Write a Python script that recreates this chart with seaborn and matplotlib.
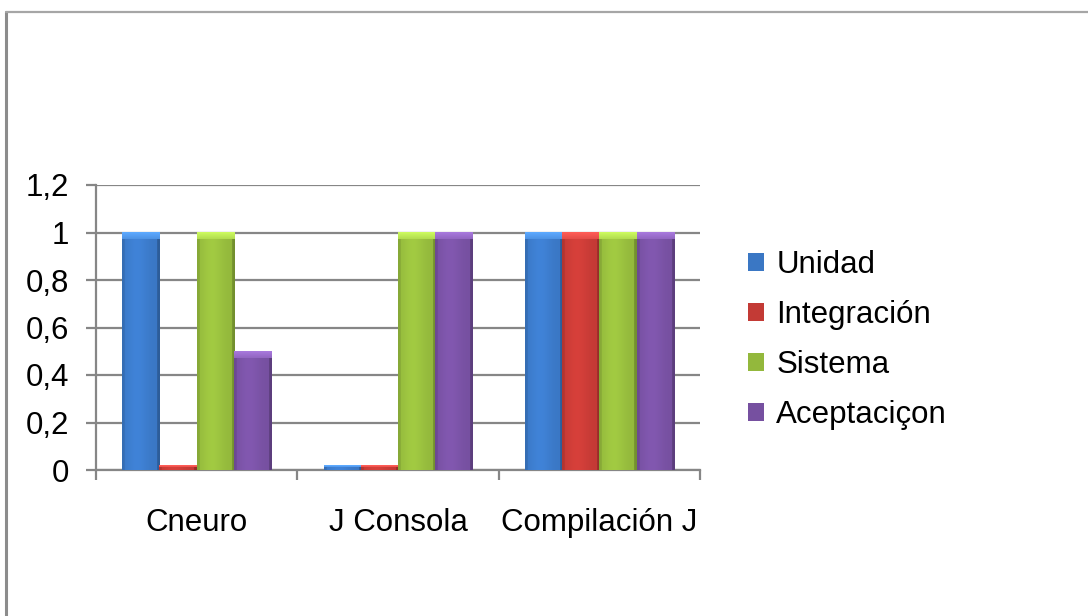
import numpy as np
import pandas as pd
import matplotlib
matplotlib.use("Agg")
import matplotlib.pyplot as plt
import matplotlib.colors as mcolors
from matplotlib.patches import Patch
from matplotlib.lines import Line2D
import seaborn as sns

# Data
categories = ["Cneuro", "J Consola", "Compilación J"]
series = ["Unidad", "Integración", "Sistema", "Aceptaciçon"]
unidad = [1.0, 0.02, 1.0]
integracion = [0.02, 0.02, 1.0]
sistema = [1.0, 1.0, 1.0]
aceptacion = [0.5, 1.0, 1.0]
y_ticks = [0, 0.2, 0.4, 0.6, 0.8, 1.0, 1.2]
y_tick_labels = ["0", "0,2", "0,4", "0,6", "0,8", "1", "1,2"]
colors = ["#3a77c4", "#c33a35", "#93b83c", "#7650a0"]

df = pd.DataFrame({
    "categoria": categories * 4,
    "serie": [s for s in series for _ in categories],
    "valor": unidad + integracion + sistema + aceptacion,
})

sns.set_theme(style="white")
plt.rcParams["font.family"] = ["Liberation Sans", "DejaVu Sans"]

W, H, DPI = 1088, 616, 100
FS = 22.5
fig = plt.figure(figsize=(W / DPI, H / DPI), dpi=DPI)
ax = fig.add_axes([96 / W, 1 - 470 / H, (700 - 96) / W, (470 - 185) / H])

grid_c = "#868686"
sns.barplot(data=df, x="categoria", y="valor", hue="serie", order=categories,
            hue_order=series, palette=colors, width=0.74, gap=0, saturation=1,
            edgecolor="none", linewidth=0, legend=False, ax=ax, zorder=3)

ax.set_ylim(0, 1.2)
ax.set_xlim(-0.5, len(categories) - 0.5)
ax.set_yticks(y_ticks)
ax.set_yticklabels(y_tick_labels, fontsize=FS, color="black")
ax.yaxis.grid(True, color=grid_c, linewidth=1.6, zorder=0)
ax.set_axisbelow(True)
ax.tick_params(axis="y", length=7.5, width=1.6, color=grid_c, pad=12, left=True)

# Category separators as major ticks, labels on minor ticks
ax.set_xticks(np.arange(-0.5, len(categories), 1.0))
ax.set_xticklabels([])
ax.set_xticks(np.arange(len(categories)), minor=True)
ax.set_xticklabels(categories, minor=True, fontsize=FS, color="black")
ax.tick_params(axis="x", which="major", length=7.5, width=1.6, color=grid_c, bottom=True)
ax.tick_params(axis="x", which="minor", length=0, pad=27.5)
ax.set_xlabel("")
ax.set_ylabel("")

for s in ["top", "right"]:
    ax.spines[s].set_visible(False)
for s in ["left", "bottom"]:
    ax.spines[s].set_color(grid_c)
    ax.spines[s].set_linewidth(1.6)


def shaded(color, n_rows, bevel):
    """Excel-like bevelled column fill: brighter centre, darker sides, light top cap."""
    base = np.array(mcolors.to_rgb(color))
    cols = 40
    t = np.linspace(0, 1, cols)
    prof = 1.0 + 0.10 * np.exp(-((t - 0.4) / 0.3) ** 2) - 0.22 * (t > 0.93) - 0.10 * (t < 0.06)
    img = np.clip(base[None, None, :] * prof[None, :, None], 0, 1)
    img = np.repeat(img, n_rows, axis=0)
    if bevel > 0:
        light = np.clip(base * 1.25 + 0.08, 0, 1)
        for r in range(bevel):
            img[r, :, :] = light * (1 - r / (bevel * 2)) + base * (r / (bevel * 2))
    return img


px_per_unit = (470 - 185) / 1.2
for p in list(ax.patches):
    h = p.get_height()
    if h <= 0:
        continue
    x, y, w = p.get_x(), p.get_y(), p.get_width()
    n_rows = max(2, int(round(h * px_per_unit)))
    bevel = min(7, n_rows // 2)
    img = shaded(p.get_facecolor(), n_rows, bevel)
    ax.imshow(img, extent=[x, x + w, y, y + h], aspect="auto", zorder=4,
              interpolation="bilinear", origin="upper")
    p.set_visible(False)
ax.set_xlim(-0.5, len(categories) - 0.5)
ax.set_ylim(0, 1.2)

handles = [Patch(facecolor=c, edgecolor="none") for c in colors]
fig.legend(handles, series, loc="center left", bbox_to_anchor=(732 / W, 1 - 340 / H),
           frameon=False, fontsize=FS, handlelength=0.52, handleheight=0.52,
           handletextpad=0.4, labelspacing=0.64, borderpad=0, labelcolor="black")

# Chart-area frame
fig.add_artist(Line2D([6 / W, 6 / W], [0, 1 - 12 / H], color="#8c8c8c", linewidth=2.2))
fig.add_artist(Line2D([6 / W, 1], [1 - 12 / H, 1 - 12 / H], color="#a6a6a6", linewidth=1.6))

fig.savefig("out.png", dpi=DPI)
